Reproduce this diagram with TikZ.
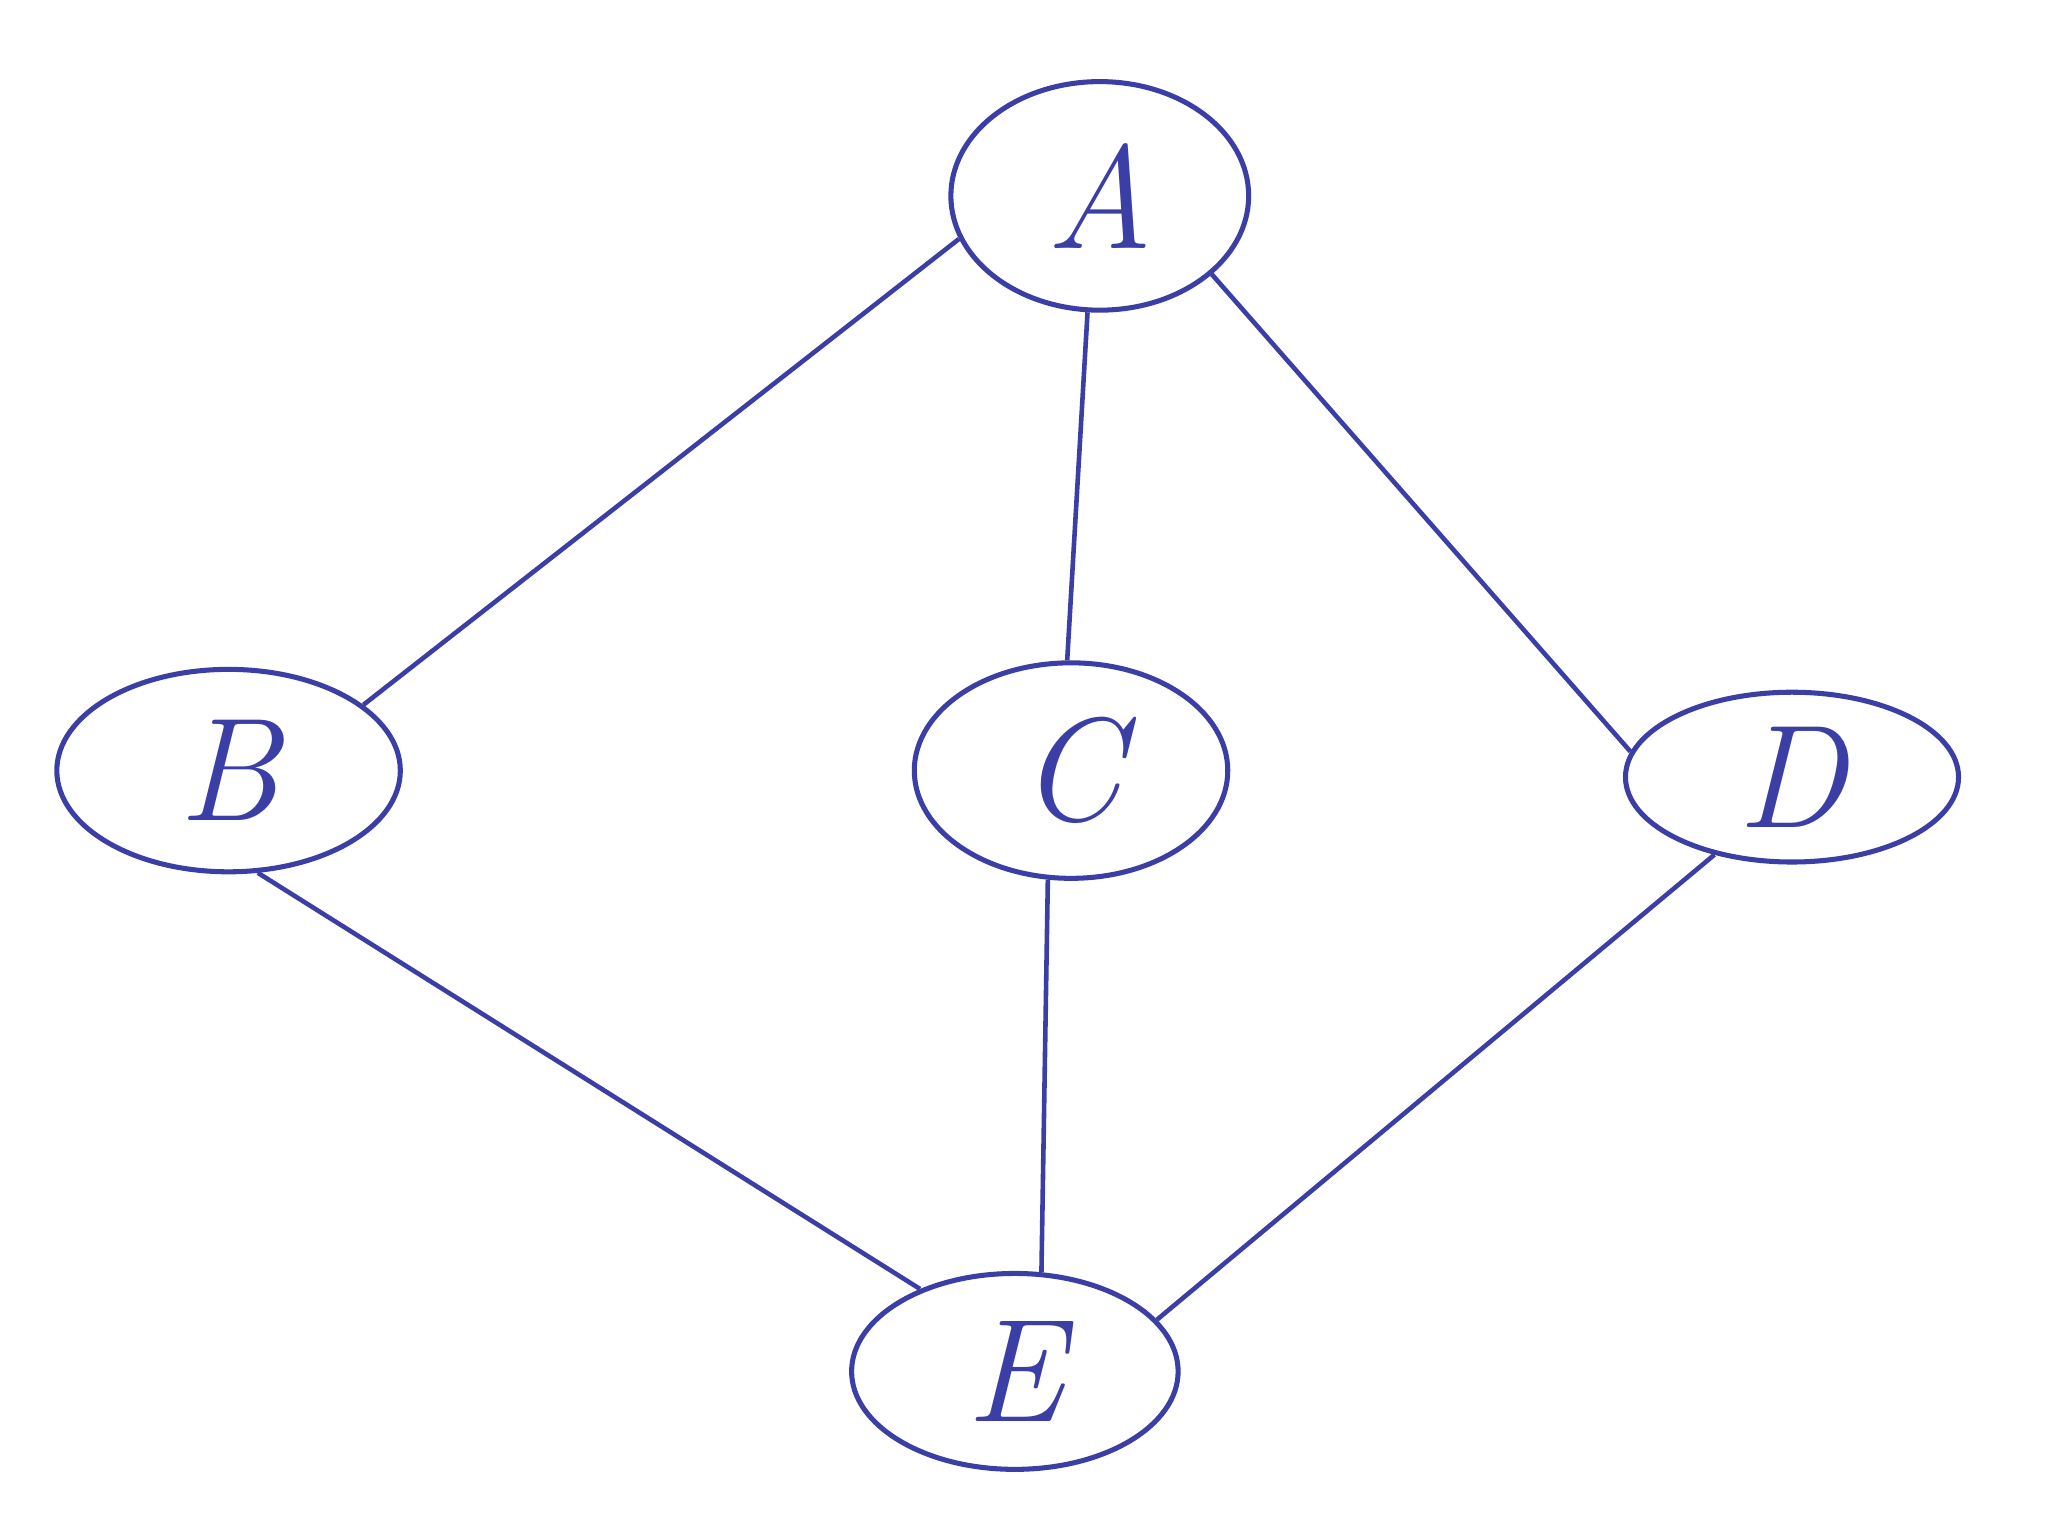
\documentclass[tikz,border=0pt]{standalone}
\usetikzlibrary{shapes.geometric}
\definecolor{ink}{RGB}{58,62,165}
\begin{document}
\begin{tikzpicture}[scale = 1,
    vertex/.style = {ellipse, draw = ink, line width = 1.1pt, text = ink,
                     font = \fontsize{32}{36}\selectfont\itshape, inner sep = 0pt},
    edge/.style = {draw = ink, line width = 1pt}]

                    \useasboundingbox (0,0) rectangle (15.68,11.76);

                    \node[vertex, minimum width = 2.28cm, minimum height = 1.75cm] (A) at (8.42,10.26) {A};
                    \node[vertex, minimum width = 2.63cm, minimum height = 1.55cm] (B) at (1.75,5.86) {B};
                    \node[vertex, minimum width = 2.40cm, minimum height = 1.65cm] (C) at (8.20,5.86) {C};
                    \node[vertex, minimum width = 2.55cm, minimum height = 1.30cm] (D) at (13.72,5.81) {D};
                    \node[vertex, minimum width = 2.50cm, minimum height = 1.50cm] (E) at (7.77,1.26) {E};

                    % edges from the top
                    \foreach \u/\a/\v/\b in {A/197/B/26, A/264/C/92, A/325/D/171}
                    \draw[edge] (\u.\a) -- (\v.\b);

                    % edges to the bottom
                    \foreach \u/\a/\v/\b in {B/286/E/139, C/258/E/75, D/225/E/20}
                    \draw[edge] (\u.\a) -- (\v.\b);
                \end{tikzpicture}
\end{document}
